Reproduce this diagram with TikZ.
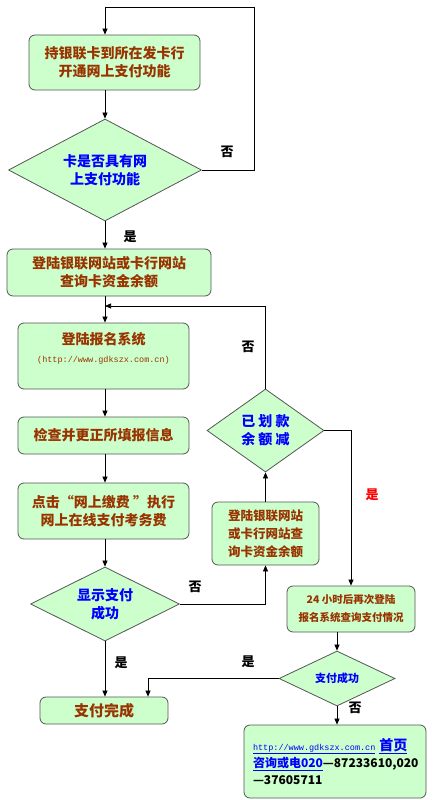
\documentclass[tikz,border=0pt]{standalone}
\usepackage{fontspec}
\setmainfont{Noto Sans CJK SC}
\newfontfamily\monofont{Liberation Mono}
\usetikzlibrary{shapes.geometric,arrows.meta}
\definecolor{boxfill}{HTML}{CCFFCC}
\definecolor{boxline}{HTML}{555555}
\definecolor{boxtext}{HTML}{993300}
\definecolor{dtext}{HTML}{0000FF}
\begin{document}
\begin{tikzpicture}[x=1pt,y=1pt,
 box/.style={draw=boxline, fill=boxfill, rounded corners=6pt, line width=0.8pt, align=center, inner sep=0pt, text=boxtext, font=\fontsize{14}{18}\selectfont\bfseries},
 dia/.style={diamond, draw=boxline, fill=boxfill, line width=0.8pt, inner sep=0pt, align=center, text=dtext, font=\fontsize{14}{18}\selectfont\bfseries},
 arr/.style={-{Triangle[length=6pt,width=5pt]}, line width=0.7pt},
 ln/.style={line width=0.7pt},
 lbl/.style={font=\fontsize{13}{13}\selectfont\bfseries}
]
\useasboundingbox (0,0) rectangle (433,-800);
% main column
\node[box, minimum width=171, minimum height=55] (b1) at (114.5,-62.5) {持银联卡到所在发卡行\\开通网上支付功能};
\node[dia, shape aspect=1.9, minimum width=193, minimum height=102] (d1) at (105,-170) {卡是否具有网\\上支付功能};
\node[box, minimum width=204, minimum height=47] (b2) at (109,-272.5) {登陆银联网站或卡行网站\\查询卡资金余额};
\coordinate (m) at (105,-306);
\node[box, minimum width=171, minimum height=66] (b3) at (103.5,-356) {登陆报名系统\\{\monofont\mdseries\fontsize{8.5}{17}\selectfont (http://www.gdkszx.com.cn)}\\\mbox{}};
\node[box, minimum width=171, minimum height=37] (b4) at (103.5,-435.5) {检查并更正所填报信息};
\node[box, minimum width=171, minimum height=56] (b5) at (103.5,-511) {点击“网上缴费 ”执行\\网上在线支付考务费};
\node[dia, shape aspect=2, minimum width=149, minimum height=74] (d2) at (105,-604) {显示支付\\成功};
\node[box, minimum width=128, minimum height=27, font=\fontsize{15}{18}\selectfont\bfseries] (b8) at (104,-710.5) {支付完成};
% right side
\node[box, minimum width=107, minimum height=63, font=\fontsize{12.5}{18}\selectfont\bfseries] (b6) at (265.5,-533.5) {登陆银联网站\\或卡行网站查\\询卡资金余额};
\node[dia, shape aspect=1.4, minimum width=117, minimum height=83] (d3) at (265.5,-430.5) {已\ 划\ 款\\余\ 额\ 减};
\node[box, minimum width=128, minimum height=46, font=\fontsize{10.5}{18}\selectfont\bfseries] (b7) at (351,-609) {24 小时后再次登陆\\报名系统查询支付情况};
\node[dia, shape aspect=2.1, minimum width=116, minimum height=55, font=\fontsize{11}{14}\selectfont\bfseries] (d4) at (337,-678.5) {支付成功};
\node[box, minimum width=182, minimum height=73, text width=164, align=left, text=black, font=\fontsize{12}{17}\selectfont\bfseries] (b9) at (335,-761.5)
 {\mbox{\textcolor{dtext}{\underline{\monofont\mdseries\fontsize{8.5}{17}\selectfont http://www.gdkszx.com.cn}\ \underline{\fontsize{14}{17}\selectfont 首页}}}\\
  \mbox{\textcolor{dtext}{\underline{咨询或电020}}—87233610,020}\\
  \mbox{—37605711}};
% connectors
\coordinate (t1) at (254,-7);
\draw[arr] (d1.east) -| (t1) -| (b1.north -| d1.north);
\draw[arr] (b1.south -| d1.north) -- (d1.north);
\draw[arr] (d1.south) -- (b2.north -| d1.south);
\draw[ln] (b2.south -| m) -- (m);
\draw[arr] (m) -- (b3.north -| m);
\draw[arr] (b3.south -| m) -- (b4.north -| m);
\draw[arr] (b4.south -| m) -- (b5.north -| m);
\draw[arr] (b5.south -| d2.north) -- (d2.north);
\draw[arr] (d2.south) -- (b8.north -| d2.south);
\draw[arr] (d2.east) -| (b6.south);
\draw[arr] (b6.north) -- (d3.south);
\draw[arr] (d3.north) |- (m);
\draw[arr] (d3.east) -| (b7.north);
\draw[arr] (b7.south -| d4.north) -- (d4.north);
\draw[arr] (d4.west) -| ([xshift=44pt]b8.north);
\draw[arr] (d4.south) -- (d4.south |- b9.north);
% labels
\node[lbl] (l1) at (227,-152) {否};
\node[lbl] (l2) at (130,-237) {是};
\node[lbl] (l3) at (248,-347) {否};
\node[lbl, text=red] (l4) at (372,-495) {是};
\node[lbl] (l5) at (195,-587) {否};
\node[lbl] (l6) at (121,-663) {是};
\node[lbl] (l7) at (248,-662) {是};
\node[lbl] (l8) at (355,-708) {否};
\end{tikzpicture}
\end{document}
